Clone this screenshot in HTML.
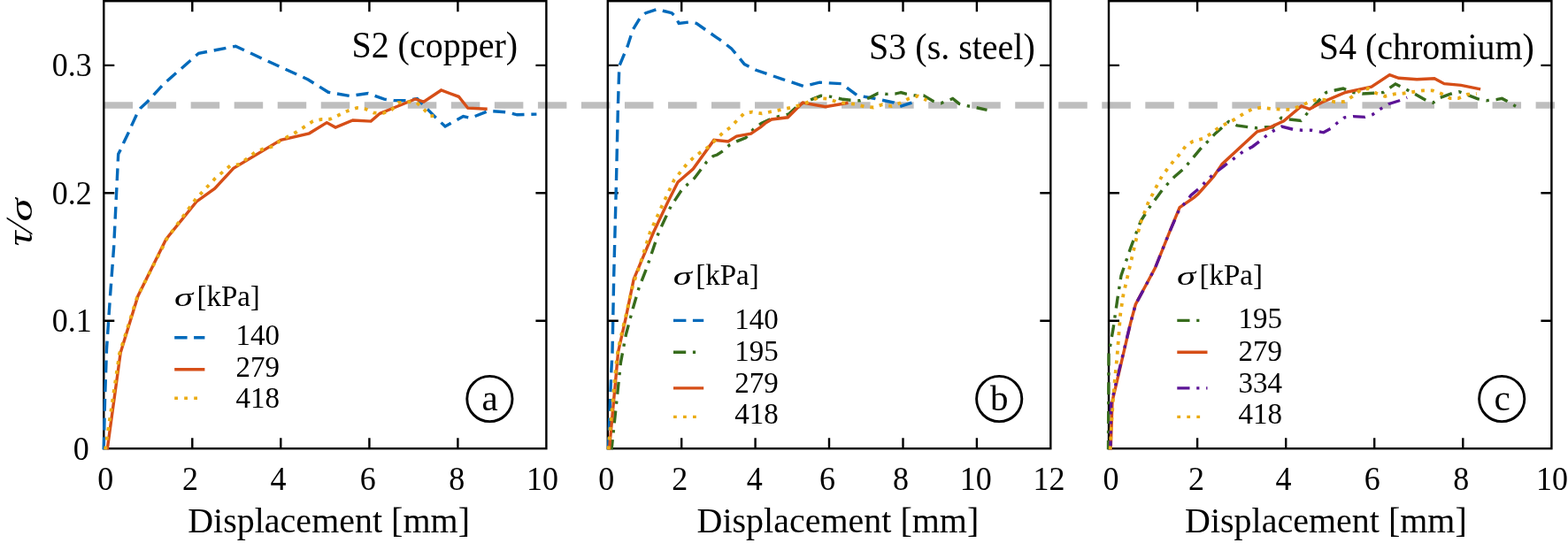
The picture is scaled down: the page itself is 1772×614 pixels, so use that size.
<!DOCTYPE html><html><head><meta charset="utf-8"><title>Figure</title><style>html,body{margin:0;padding:0;background:#fff;}svg{display:block}</style></head><body>
<svg width="1772" height="614" viewBox="0 0 1772 614" font-family="'Liberation Serif', 'Times New Roman', serif">
<rect width="1772" height="614" fill="#fff"/>
<line x1="117.6" y1="119.0" x2="1757" y2="119.0" stroke="#BEBEBE" stroke-width="7.5" stroke-dasharray="32.5 16.53"/>
<rect x="117.3" y="1.2" width="500.1" height="506.0" fill="none" stroke="#000" stroke-width="2.4"/>
<path d="M217.3,507.2v-12M217.3,1.2v12M317.3,507.2v-12M317.3,1.2v12M417.4,507.2v-12M417.4,1.2v12M517.4,507.2v-12M517.4,1.2v12M117.3,362.8h12M617.4,362.8h-12M117.3,218.3h12M617.4,218.3h-12M117.3,73.9h12M617.4,73.9h-12" stroke="#000" stroke-width="2.4" fill="none"/>
<polyline points="117.2,508.3 118.6,450.0 120.5,395.0 124.5,335.0 128.6,280.0 132.0,210.0 133.7,174.1 136.3,169.2 139.7,161.4 145.6,149.2 149.0,141.4 154.4,129.6 158.8,122.3 166.6,115.0 185.5,94.5 224.5,60.3 266.3,52.3 304.0,69.8 348.2,90.0 371.0,104.3 395.8,108.5 416.0,105.6 434.2,112.1 445.3,113.6 458.7,113.8 471.5,111.6 493.3,133.8 503.1,143.0 523.5,131.6 532.0,133.4 552.1,125.4 573.4,126.9 584.4,129.8 606.4,129.1" fill="none" stroke="#006ABB" stroke-width="3.4" stroke-linejoin="miter" stroke-miterlimit="3" stroke-dasharray="13.9 7.85"/>
<polyline points="121.2,508.3 136.2,398.8 155.9,334.7 187.7,270.4 222.1,227.9 242.7,213.2 263.8,190.4 317.3,158.4 349.5,150.8 369.3,138.6 379.1,144.0 398.7,136.0 419.2,137.1 429.4,128.3 440.0,124.0 469.3,112.0 478.8,115.2 498.6,102.0 518.4,109.3 528.7,122.2 550.7,123.2" fill="none" stroke="#D64E17" stroke-width="3.4" stroke-linejoin="miter" stroke-miterlimit="3" />
<polyline points="119.0,508.3 135.0,400.0 155.0,336.0 189.2,268.9 221.4,224.9 243.4,201.5 260.1,187.4 270.4,186.0 288.0,172.5 297.5,168.4 308.5,165.7 316.5,159.3 335.6,149.0 353.7,137.0 363.3,135.0 373.2,134.7 392.8,125.4 403.3,122.0 413.1,123.3 422.6,127.6 433.4,127.9 442.6,124.2 450.0,116.1 460.5,115.2 470.8,115.9 478.8,123.2 486.2,131.3 495.0,130.6" fill="none" stroke="#EBAC15" stroke-width="3.8" stroke-linejoin="miter" stroke-miterlimit="3" stroke-dasharray="3.9 6.9"/>
<text transform="translate(110.2,553.6) scale(1,1.05)" font-size="36.0">0</text>
<text transform="translate(206.1,553.6) scale(1,1.05)" font-size="36.0">2</text>
<text transform="translate(305.6,553.6) scale(1,1.05)" font-size="36.0">4</text>
<text transform="translate(406.8,553.6) scale(1,1.05)" font-size="36.0">6</text>
<text transform="translate(507.2,553.6) scale(1,1.05)" font-size="36.0">8</text>
<text transform="translate(595.1,553.6) scale(1,1.05)" font-size="36.0">10</text>
<text transform="translate(212.2,601.9) scale(1,1.015)" font-size="40">Displacement [mm]</text>
<text transform="translate(397.4,64.7) scale(1,1.035)" font-size="40">S2 (copper)</text>
<circle cx="553.4" cy="451" r="25.6" fill="none" stroke="#000" stroke-width="2.9"/>
<text x="544.6" y="463.5" font-size="41">a</text>
<text transform="translate(196.9,345.7) scale(1.3,0.9)" font-size="33" font-style="italic">σ</text>
<text transform="translate(222.4,346.1) scale(1,1.03)" font-size="33">[kPa]</text>
<line x1="197.2" y1="381.7" x2="231.4" y2="381.7" stroke="#006ABB" stroke-width="3.4" stroke-dasharray="14.4 7.5"/>
<text transform="translate(266.4,390.0) scale(1,1.03)" font-size="33">140</text>
<line x1="197.2" y1="417.8" x2="231.4" y2="417.8" stroke="#D64E17" stroke-width="3.4" />
<text transform="translate(266.4,425.9) scale(1,1.03)" font-size="33">279</text>
<line x1="197.2" y1="450.2" x2="223.7" y2="450.2" stroke="#EBAC15" stroke-width="3.4" stroke-dasharray="3.8 7.2"/>
<text transform="translate(266.4,461.4) scale(1,1.03)" font-size="33">418</text>
<rect x="686.8" y="1.2" width="500.5" height="506.0" fill="none" stroke="#000" stroke-width="2.4"/>
<path d="M770.2,507.2v-12M770.2,1.2v12M853.6,507.2v-12M853.6,1.2v12M937.0,507.2v-12M937.0,1.2v12M1020.5,507.2v-12M1020.5,1.2v12M1103.9,507.2v-12M1103.9,1.2v12M686.8,362.8h12M1187.3,362.8h-12M686.8,218.3h12M1187.3,218.3h-12M686.8,73.9h12M1187.3,73.9h-12" stroke="#000" stroke-width="2.4" fill="none"/>
<polyline points="687.5,508.3 690.8,420.0 692.0,400.0 693.7,312.0 696.6,200.0 698.3,124.0 699.8,74.8 709.3,52.0 715.2,33.7 724.0,19.0 729.8,14.7 743.0,10.3 750.4,12.5 759.2,14.7 762.8,18.3 767.2,26.4 779.7,24.9 787.0,26.4 809.0,41.8 816.3,46.9 826.6,55.0 832.4,61.6 841.2,72.6 848.6,76.2 854.4,79.3 884.4,89.6 908.6,97.6 926.2,93.2 951.1,94.7 968.7,107.9 989.3,111.6 1010.5,116.0 1017.1,120.4 1030.5,116.0" fill="none" stroke="#006ABB" stroke-width="3.4" stroke-linejoin="miter" stroke-miterlimit="3" stroke-dasharray="13.9 7.85"/>
<polyline points="691.1,508.3 701.5,409.6 707.4,378.3 715.2,348.9 722.1,325.4 730.9,302.9 744.5,262.5 758.2,233.2 769.9,215.6 777.5,208.0 784.8,201.4 798.7,183.0 806.1,176.4 810.5,175.0 817.1,170.6 824.4,164.0 833.2,159.6 842.7,155.9 851.5,146.1 860.3,139.4 870.5,134.7 880.8,131.4 891.0,129.2 902.8,118.6 917.4,112.3 927.7,108.3 939.4,109.4 952.6,112.3 961.4,113.3 971.7,113.8 981.9,110.8 992.2,105.4 1001.7,106.4 1011.5,106.1 1018.1,104.6 1024.7,106.4 1033.5,107.9 1043.7,107.9 1054.7,114.4 1063.5,116.6 1073.0,113.0 1076.7,111.5 1084.0,117.4 1092.8,119.6 1102.3,121.5 1115.5,124.3" fill="none" stroke="#376C1C" stroke-width="3.4" stroke-linejoin="miter" stroke-miterlimit="3" stroke-dasharray="13.9 7.8 3.3 7.8" stroke-dashoffset="2.7"/>
<polyline points="688.5,508.3 696.6,420.0 698.6,398.0 707.4,358.7 716.2,315.7 738.6,262.5 754.3,229.3 766.0,206.0 783.3,191.1 806.8,158.4 822.9,159.9 832.4,154.0 848.6,151.1 860.0,143.5 864.7,139.4 872.0,135.0 890.3,132.8 907.2,116.0 932.8,120.7 958.5,116.3" fill="none" stroke="#D64E17" stroke-width="3.4" stroke-linejoin="miter" stroke-miterlimit="3" />
<polyline points="687.5,508.3 696.6,409.6 698.0,398.8 700.2,388.0 702.5,377.3 705.0,366.5 707.4,356.8 709.7,346.0 712.3,335.2 714.8,324.5 718.2,313.7 722.0,303.0 734.7,262.5 748.4,232.2 762.1,202.9 769.4,194.0 776.0,185.7 784.1,177.9 792.9,171.3 801.7,165.4 809.0,157.8 817.1,150.0 825.9,143.7 833.2,135.8 841.2,128.1 850.0,126.6 861.0,128.4 872.0,126.2 883.0,124.0 893.2,121.8 904.2,118.9 913.8,115.2 924.0,110.8 934.3,111.6 945.3,115.0 955.5,116.7 966.5,117.7 976.8,120.4 987.1,121.5 997.3,118.2 1007.6,120.0 1017.8,116.3 1027.6,111.2 1037.1,108.6 1047.4,113.4" fill="none" stroke="#EBAC15" stroke-width="3.8" stroke-linejoin="miter" stroke-miterlimit="3" stroke-dasharray="3.9 6.9"/>
<text transform="translate(676.2,553.6) scale(1,1.05)" font-size="36.0">0</text>
<text transform="translate(759.3,553.6) scale(1,1.05)" font-size="36.0">2</text>
<text transform="translate(843.7,553.6) scale(1,1.05)" font-size="36.0">4</text>
<text transform="translate(926.1,553.6) scale(1,1.05)" font-size="36.0">6</text>
<text transform="translate(1008.9,553.6) scale(1,1.05)" font-size="36.0">8</text>
<text transform="translate(1084.8,553.6) scale(1,1.05)" font-size="36.0">10</text>
<text transform="translate(1167.6,553.6) scale(1,1.05)" font-size="36.0">12</text>
<text transform="translate(787.5,601.9) scale(1,1.015)" font-size="40">Displacement [mm]</text>
<text transform="translate(982.1,66.6) scale(1,1.035)" font-size="40">S3 (s. steel)</text>
<circle cx="1129.2" cy="451" r="25.6" fill="none" stroke="#000" stroke-width="2.9"/>
<text x="1119.0" y="463.5" font-size="41">b</text>
<text transform="translate(760.7,321.7) scale(1.3,0.9)" font-size="33" font-style="italic">σ</text>
<text transform="translate(786.2,322.1) scale(1,1.03)" font-size="33">[kPa]</text>
<line x1="761.0" y1="362.4" x2="795.2" y2="362.4" stroke="#006ABB" stroke-width="3.4" stroke-dasharray="14.4 7.5"/>
<text transform="translate(830.2,371.6) scale(1,1.03)" font-size="33">140</text>
<line x1="761.0" y1="398.3" x2="795.2" y2="398.3" stroke="#376C1C" stroke-width="3.4" stroke-dasharray="14.2 7.7 3.2 9.5"/>
<text transform="translate(830.2,407.6) scale(1,1.03)" font-size="33">195</text>
<line x1="761.0" y1="438.9" x2="795.2" y2="438.9" stroke="#D64E17" stroke-width="3.4" />
<text transform="translate(830.2,443.6) scale(1,1.03)" font-size="33">279</text>
<line x1="761.0" y1="471.4" x2="787.5" y2="471.4" stroke="#EBAC15" stroke-width="3.4" stroke-dasharray="3.8 7.2"/>
<text transform="translate(830.2,478.6) scale(1,1.03)" font-size="33">418</text>
<rect x="1253.0" y="1.2" width="500.4" height="506.0" fill="none" stroke="#000" stroke-width="2.4"/>
<path d="M1353.1,507.2v-12M1353.1,1.2v12M1453.2,507.2v-12M1453.2,1.2v12M1553.2,507.2v-12M1553.2,1.2v12M1653.3,507.2v-12M1653.3,1.2v12M1253.0,362.8h12M1753.4,362.8h-12M1253.0,218.3h12M1753.4,218.3h-12M1253.0,73.9h12M1753.4,73.9h-12" stroke="#000" stroke-width="2.4" fill="none"/>
<polyline points="1252.5,508.3 1253.0,400.0 1258.0,371.9 1262.9,337.7 1267.0,311.6 1277.7,280.3 1289.1,250.1 1300.5,232.2 1308.6,221.6 1314.5,213.3 1327.7,199.4 1338.0,190.6 1358.5,166.1 1365.8,159.1 1373.7,150.7 1382.5,142.9 1388.5,137.5 1397.9,141.9 1410.4,143.6 1420.6,144.8 1431.4,143.6 1438.2,144.0 1447.9,133.3 1457.6,135.0 1470.2,136.5 1477.0,128.5 1485.0,119.4 1492.4,111.7 1498.7,104.6 1508.9,102.0 1518.0,100.1 1529.3,104.5 1539.6,106.0 1554.3,105.2 1563.1,104.5 1577.0,94.9 1582.2,97.6 1591.0,102.0 1599.8,106.7 1611.5,113.3 1619.6,116.2 1627.7,110.4 1640.1,106.0 1648.9,103.7 1659.9,107.9 1670.2,111.8 1679.8,113.7 1690.8,112.6 1697.4,111.4 1702.5,114.0 1713.0,120.2" fill="none" stroke="#376C1C" stroke-width="3.4" stroke-linejoin="miter" stroke-miterlimit="3" stroke-dasharray="13.9 7.8 3.3 7.8" stroke-dashoffset="3.5"/>
<polyline points="1255.2,508.3 1257.0,453.8 1277.6,365.4 1283.3,344.2 1305.4,303.1 1321.7,262.3 1333.1,234.7 1349.3,223.3 1354.1,219.2 1371.7,199.4 1381.2,185.4 1420.8,148.8 1431.4,145.9 1450.8,136.8 1470.7,119.9 1479.9,123.3 1493.9,115.8 1520.5,104.5 1549.9,98.2 1570.4,84.7 1580.7,88.3 1601.2,89.8 1621.0,88.8 1632.1,94.7 1651.1,96.4 1673.1,100.8" fill="none" stroke="#D64E17" stroke-width="3.4" stroke-linejoin="miter" stroke-miterlimit="3" />
<polyline points="1255.0,508.3 1255.5,457.0 1277.6,365.4 1283.3,344.2 1292.2,327.9 1305.4,303.1 1321.7,262.3 1333.1,236.0 1339.6,229.0 1346.0,220.8 1354.1,214.0 1370.2,197.9 1383.4,187.6 1404.6,171.5 1415.6,165.7 1424.4,159.1 1431.4,153.3 1440.5,147.0 1448.5,143.0 1461.6,146.4 1471.2,147.2 1482.1,147.3 1495.8,149.8 1503.8,145.3 1511.2,139.0 1519.5,132.8 1529.3,131.6 1542.6,132.4 1551.4,129.4 1560.2,123.1 1569.0,117.7 1580.7,114.0 1590.2,110.4" fill="none" stroke="#5C1496" stroke-width="3.4" stroke-linejoin="miter" stroke-miterlimit="3" stroke-dasharray="13.9 7.8 3.3 7.8 3.3 7.8" stroke-dashoffset="4"/>
<polyline points="1254.7,508.3 1255.8,484.2 1257.9,452.9 1259.7,431.4 1262.4,403.6 1264.5,376.8 1266.2,354.8 1269.4,333.6 1274.3,312.4 1279.3,290.8 1284.2,269.7 1289.9,249.3 1298.0,228.1 1302.8,219.2 1307.9,208.9 1313.0,199.4 1319.6,190.6 1326.2,182.2 1333.6,174.0 1340.1,164.9 1348.2,159.8 1359.2,156.9 1368.0,151.4 1376.8,144.7 1386.2,139.5 1395.7,134.8 1405.2,128.7 1414.8,123.4 1425.0,121.6 1436.0,122.8 1446.8,123.6 1457.6,123.9 1467.9,120.6 1477.6,116.2 1487.8,112.6 1498.7,112.8 1508.9,115.3 1519.7,114.9 1528.6,108.9 1537.4,102.0 1546.2,100.1 1555.0,105.2 1565.3,108.9 1575.6,106.4 1586.6,105.5 1596.8,104.0 1607.9,102.3 1618.9,102.3 1629.1,106.0 1638.7,111.1 1648.2,111.1 1658.5,106.7 1668.7,106.0" fill="none" stroke="#EBAC15" stroke-width="3.8" stroke-linejoin="miter" stroke-miterlimit="3" stroke-dasharray="3.9 6.9"/>
<text transform="translate(1246.6,553.6) scale(1,1.05)" font-size="36.0">0</text>
<text transform="translate(1343.1,553.6) scale(1,1.05)" font-size="36.0">2</text>
<text transform="translate(1441.6,553.6) scale(1,1.05)" font-size="36.0">4</text>
<text transform="translate(1541.8,553.6) scale(1,1.05)" font-size="36.0">6</text>
<text transform="translate(1642.2,553.6) scale(1,1.05)" font-size="36.0">8</text>
<text transform="translate(1736.1,553.6) scale(1,1.05)" font-size="36.0">10</text>
<text transform="translate(1339.0,601.9) scale(1,1.015)" font-size="40">Displacement [mm]</text>
<text transform="translate(1490.7,66.8) scale(1,1.035)" font-size="40">S4 (chromium)</text>
<circle cx="1697.2" cy="451" r="25.6" fill="none" stroke="#000" stroke-width="2.9"/>
<text x="1688.5" y="463.5" font-size="41">c</text>
<text transform="translate(1330.0,321.6) scale(1.3,0.9)" font-size="33" font-style="italic">σ</text>
<text transform="translate(1355.5,322.0) scale(1,1.03)" font-size="33">[kPa]</text>
<line x1="1330.3" y1="362.4" x2="1364.5" y2="362.4" stroke="#376C1C" stroke-width="3.4" stroke-dasharray="14.2 7.7 3.2 9.5"/>
<text transform="translate(1399.5,371.4) scale(1,1.03)" font-size="33">195</text>
<line x1="1330.3" y1="398.3" x2="1364.5" y2="398.3" stroke="#D64E17" stroke-width="3.4" />
<text transform="translate(1399.5,407.6) scale(1,1.03)" font-size="33">279</text>
<line x1="1330.3" y1="438.9" x2="1364.5" y2="438.9" stroke="#5C1496" stroke-width="3.4" stroke-dasharray="14.2 7.7 3.2 7.7 3.2 7.7"/>
<text transform="translate(1399.5,443.6) scale(1,1.03)" font-size="33">334</text>
<line x1="1330.3" y1="471.4" x2="1356.8" y2="471.4" stroke="#EBAC15" stroke-width="3.4" stroke-dasharray="3.8 7.2"/>
<text transform="translate(1399.5,478.6) scale(1,1.03)" font-size="33">418</text>
<text transform="translate(82.7,519.9) scale(1,1.05)" font-size="36.0">0</text>
<text transform="translate(58.7,375.4) scale(1,1.05)" font-size="36.0">0.1</text>
<text transform="translate(58.7,230.6) scale(1,1.05)" font-size="36.0">0.2</text>
<text transform="translate(58.7,86.2) scale(1,1.05)" font-size="36.0">0.3</text>
<g transform="translate(35.9,278.3) rotate(-90)" font-size="41"><text transform="scale(1.15,1)" font-style="italic">τ</text><text x="12.6" y="0.3" font-size="43" transform="skewX(-16.4)">/</text><text transform="translate(27.7,0) scale(1.29,0.88)" font-style="italic">σ</text></g>
</svg></body></html>
